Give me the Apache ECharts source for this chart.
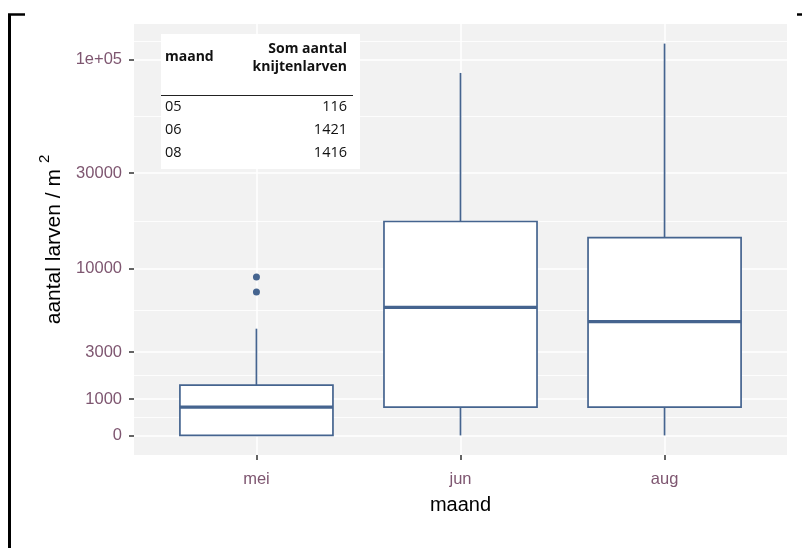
<!DOCTYPE html>
<html>
<head>
<meta charset="utf-8">
<title>knijtenlarven per maand</title>
<script src="https://cdn.jsdelivr.net/npm/echarts@6.0.0/dist/echarts.min.js"></script>
<style>
    html, body { margin: 0; padding: 0; background: #fff; }
    #main { width: 802px; height: 548px; }
</style>
</head>
<body>
<div id="main"></div>
<script type="text/javascript">
// boxplot per maand (larven / m2)
var months = ['mei', 'jun', 'aug'];
var boxLow = [0, 0, 0];
var boxQ1 = [0, 750, 750];
var boxMedian = [750, 6000, 4900];
var boxQ3 = [1500, 17500, 14500];
var boxHigh = [4400, 87000, 118000];
// uitschieters
var outlierMonth = [1, 1];
var outlierValue = [7400, 9000];
// y-as
var yBreaks = [0, 1000, 3000, 10000, 30000, 100000];
var yBreakLabels = ['0', '1000', '3000', '10000', '30000', '1e+05'];
// tabel
var tableMonth = ['05', '06', '08'];
var tableSum = [116, 1421, 1416];

var OFFSET = 2250;
function tr(v) { return Math.log(v + OFFSET); }

var lineColor = '#45648F';
var labelColor = '#7E5670';

var lo = tr(0);
var hi = tr(Math.max.apply(null, boxHigh));
var pad = (hi - lo) * 0.05;
var yMin = lo - pad, yMax = hi + pad;

var majorT = yBreaks.map(tr);
var minorT = [];
for (var i = 0; i < majorT.length - 1; i++) {
    minorT.push((majorT[i] + majorT[i + 1]) / 2);
}
minorT.push(majorT[majorT.length - 1] + (majorT[1] - majorT[0]) / 2);

var boxData = months.map(function (m, i) {
    return [i + 1, tr(boxLow[i]), tr(boxQ1[i]), tr(boxMedian[i]), tr(boxQ3[i]), tr(boxHigh[i])];
});
var outlierData = outlierValue.map(function (v, i) {
    return [outlierMonth[i], tr(v)];
});

function renderBox(params, api) {
    var x = api.value(0);
    var pLow = api.coord([x, api.value(1)]);
    var pQ1 = api.coord([x, api.value(2)]);
    var pMed = api.coord([x, api.value(3)]);
    var pQ3 = api.coord([x, api.value(4)]);
    var pHigh = api.coord([x, api.value(5)]);
    var half = api.size([0.75, 0])[0] / 2;
    var cx = pQ1[0];
    var thin = {stroke: lineColor, lineWidth: 1.7};
    return {
        type: 'group',
        children: [
            {type: 'line', shape: {x1: cx, y1: pQ3[1], x2: cx, y2: pHigh[1]}, style: thin},
            {type: 'line', shape: {x1: cx, y1: pLow[1], x2: cx, y2: pQ1[1]}, style: thin},
            {type: 'rect', shape: {x: cx - half, y: pQ3[1], width: 2 * half, height: pQ1[1] - pQ3[1]},
                style: {fill: '#fff', stroke: lineColor, lineWidth: 1.7}},
            {type: 'line', shape: {x1: cx - half, y1: pMed[1], x2: cx + half, y2: pMed[1]},
                style: {stroke: lineColor, lineWidth: 3.2}}
        ]
    };
}

// tabel linksboven
var tableFont = '"Open Sans", "Noto Sans", sans-serif';
var tableItems = [
    {type: 'rect', shape: {x: 161, y: 34, width: 199, height: 135}, style: {fill: '#fff'}},
    {type: 'text', x: 165, y: 57, style: {text: 'maand', font: 'bold 14px ' + tableFont, fill: '#111', textVerticalAlign: 'middle'}},
    {type: 'text', x: 347, y: 58, style: {text: 'Som aantal\nknijtenlarven', font: 'bold 14px ' + tableFont, fill: '#111',
        textAlign: 'right', textVerticalAlign: 'middle', lineHeight: 18}},
    {type: 'line', shape: {x1: 161, y1: 95.5, x2: 353, y2: 95.5}, style: {stroke: '#222', lineWidth: 1.2}}
];
tableMonth.forEach(function (m, i) {
    var y = 107 + i * 23;
    tableItems.push({type: 'text', x: 165, y: y, style: {text: m, font: '14.5px ' + tableFont, fill: '#111', textVerticalAlign: 'middle'}});
    tableItems.push({type: 'text', x: 347, y: y, style: {text: String(tableSum[i]), font: '14.5px ' + tableFont, fill: '#111',
        textAlign: 'right', textVerticalAlign: 'middle'}});
});
tableItems.forEach(function (el) { el.zlevel = 1; el.z = 100; });

// rand van de figuur
var frame = [
    {type: 'line', shape: {x1: 9.5, y1: 14, x2: 9.5, y2: 548}, style: {stroke: '#000', lineWidth: 3}},
    {type: 'line', shape: {x1: 8, y1: 14.5, x2: 25, y2: 14.5}, style: {stroke: '#000', lineWidth: 2.5}},
    {type: 'line', shape: {x1: 797, y1: 14.5, x2: 802, y2: 14.5}, style: {stroke: '#000', lineWidth: 2.5}}
];

var option = {
    animation: false,
    backgroundColor: '#fff',
    textStyle: {fontFamily: '"Liberation Sans", Arial, sans-serif'},
    grid: {
        left: 134, right: 15, top: 24, bottom: 93,
        show: true, backgroundColor: '#F2F2F2', borderWidth: 0
    },
    xAxis: {
        type: 'value',
        min: 0.4,
        max: 3.6,
        axisLine: {show: false},
        axisTick: {show: true, length: 5, customValues: [1, 2, 3], lineStyle: {color: '#333', width: 1.5}},
        axisLabel: {
            customValues: [1, 2, 3],
            formatter: function (v) { return months[Math.round(v) - 1] || ''; },
            color: labelColor, fontSize: 16.5, margin: 16
        },
        splitLine: {show: true, lineStyle: {color: '#fff', width: 1.5}},
        name: 'maand',
        nameLocation: 'middle',
        nameGap: 40,
        nameTextStyle: {color: '#000', fontSize: 20}
    },
    yAxis: [{
        type: 'value',
        min: yMin,
        max: yMax,
        axisLine: {show: false},
        axisTick: {show: true, length: 5, customValues: majorT, lineStyle: {color: '#333', width: 1.5}},
        axisLabel: {
            customValues: majorT,
            formatter: function (v) {
                for (var k = 0; k < majorT.length; k++) {
                    if (Math.abs(v - majorT[k]) < 1e-6) return yBreakLabels[k];
                }
                return '';
            },
            color: labelColor, fontSize: 16.5, margin: 12
        },
        splitLine: {show: true, lineStyle: {color: '#fff', width: 1.5}},
        name: 'aantal larven / m{sup|2}',
        nameLocation: 'middle',
        nameGap: 62,
        nameTextStyle: {
            color: '#000', fontSize: 21,
            rich: {sup: {fontSize: 15, color: '#000', padding: [0, 0, 18, 6]}}
        }
    }, {
        type: 'value',
        min: yMin,
        max: yMax,
        axisLine: {show: false},
        axisTick: {show: false, customValues: minorT},
        axisLabel: {show: false},
        splitLine: {show: true, lineStyle: {color: '#fff', width: 0.8}}
    }],
    series: [{
        type: 'custom',
        renderItem: renderBox,
        encode: {x: 0, y: [1, 2, 3, 4, 5]},
        data: boxData,
        z: 5
    }, {
        type: 'scatter',
        data: outlierData,
        symbolSize: 7,
        itemStyle: {color: lineColor, opacity: 1},
        z: 6
    }],
    graphic: frame.concat([{type: 'group', zlevel: 1, z: 100, children: tableItems}])
};

var chart = echarts.init(document.getElementById('main'));
chart.setOption(option);
</script>
</body>
</html>
